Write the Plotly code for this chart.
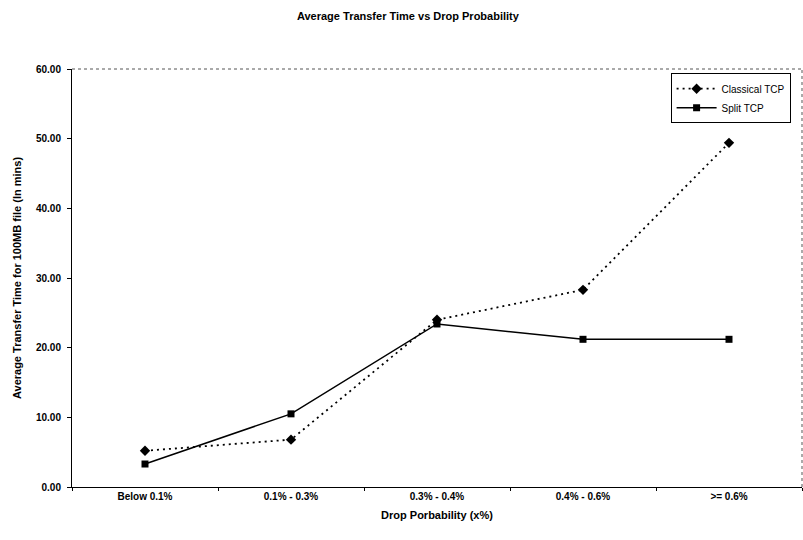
import plotly.graph_objects as go

categories = ["Below 0.1%", "0.1% - 0.3%", "0.3% - 0.4%", "0.4% - 0.6%", ">= 0.6%"]
classical_tcp = [5.2, 6.8, 24.0, 28.3, 49.4]
split_tcp = [3.3, 10.5, 23.4, 21.2, 21.2]

FONT = "Liberation Sans, Arial, sans-serif"

fig = go.Figure()

fig.add_trace(go.Scatter(
    x=categories, y=classical_tcp, name="Classical TCP",
    mode="lines+markers",
    line=dict(color="black", width=1.8, dash="2px,4px"),
    marker=dict(symbol="diamond", size=8, color="black"),
))
fig.add_trace(go.Scatter(
    x=categories, y=split_tcp, name="Split TCP",
    mode="lines+markers",
    line=dict(color="black", width=1.5),
    marker=dict(symbol="square", size=7, color="black"),
))

# dotted frame along the top and right edges of the plot area
fig.add_shape(type="line", xref="paper", yref="paper", x0=0, x1=1, y0=1, y1=1,
              line=dict(color="#555", width=1, dash="dot"))
fig.add_shape(type="line", xref="paper", yref="paper", x0=1, x1=1, y0=0, y1=1,
              line=dict(color="#555", width=1, dash="dot"))

fig.update_layout(
    width=803, height=540,
    margin=dict(l=72, r=1, t=69, b=53),
    paper_bgcolor="white", plot_bgcolor="white",
    font=dict(family=FONT, color="black", size=10),
    title=dict(text="<b>Average Transfer Time vs Drop Probability</b>",
               x=0.508, xref="container", xanchor="center",
               y=1 - 16 / 540, yref="container", yanchor="middle",
               font=dict(size=11, family=FONT, color="black")),
    showlegend=True,
    legend=dict(x=0.82, y=0.99, xanchor="left", yanchor="top",
                bgcolor="white", bordercolor="black", borderwidth=1,
                font=dict(size=10, family=FONT, color="black"),
                tracegroupgap=2, itemwidth=40),
    xaxis=dict(
        type="category", showgrid=False, zeroline=False,
        showline=True, linecolor="black", linewidth=1,
        ticks="outside", tickson="boundaries", ticklen=3, tickcolor="black",
        tickfont=dict(size=10, family=FONT, color="black"),
        title=dict(text="<b>Drop Porbability (x%)</b>", standoff=10,
                   font=dict(size=11, family=FONT, color="black")),
        range=[-0.5, 4.5],
    ),
    yaxis=dict(
        range=[0, 60], dtick=10, tickformat=".2f", showgrid=False, zeroline=False,
        showline=True, linecolor="black", linewidth=1,
        ticks="outside", ticklen=4, tickcolor="black", ticklabelstandoff=4,
        tickfont=dict(size=10, family=FONT, color="black"),
        title=dict(text="<b>Average Transfer Time for 100MB file (In mins)</b>", standoff=12,
                   font=dict(size=11, family=FONT, color="black")),
    ),
)

fig.for_each_xaxis(lambda a: a.update(tickprefix="<b>", ticksuffix="</b>"))
fig.for_each_yaxis(lambda a: a.update(tickprefix="<b>", ticksuffix="</b>"))

fig.write_html("out.html")
